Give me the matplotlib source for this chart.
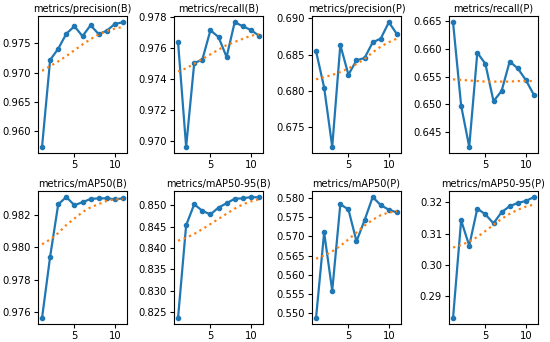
import matplotlib
matplotlib.use("Agg")
import matplotlib.pyplot as plt
from matplotlib.ticker import MultipleLocator

# epochs
epochs = [1, 2, 3, 4, 5, 6, 7, 8, 9, 10, 11]

titles = ["metrics/precision(B)", "metrics/recall(B)", "metrics/precision(P)", "metrics/recall(P)",
          "metrics/mAP50(B)", "metrics/mAP50-95(B)", "metrics/mAP50(P)", "metrics/mAP50-95(P)"]

# raw values
precision_b = [0.9573, 0.97215, 0.97407, 0.97663, 0.97791, 0.97622, 0.97808, 0.97657, 0.97715, 0.97831, 0.97860]
recall_b = [0.97639, 0.96965, 0.97504, 0.97526, 0.97715, 0.97672, 0.97543, 0.97767, 0.97741, 0.97717, 0.97680]
precision_p = [0.68547, 0.68047, 0.67234, 0.68631, 0.68224, 0.68421, 0.68453, 0.68668, 0.68720, 0.68944, 0.68780]
recall_p = [0.6648, 0.64975, 0.64235, 0.65932, 0.65728, 0.65056, 0.65241, 0.65772, 0.65648, 0.65438, 0.65167]
map50_b = [0.97561, 0.97943, 0.98269, 0.98314, 0.98263, 0.98282, 0.98302, 0.98306, 0.98306, 0.98300, 0.98306]
map5095_b = [0.82362, 0.84531, 0.85023, 0.84870, 0.84785, 0.84946, 0.85046, 0.85153, 0.85161, 0.85192, 0.85184]
map50_p = [0.54881, 0.5710, 0.5559, 0.5783, 0.5770, 0.5687, 0.5742, 0.5802, 0.5781, 0.5769, 0.5762]
map5095_p = [0.28295, 0.31421, 0.30611, 0.31800, 0.31611, 0.31326, 0.31684, 0.31874, 0.31979, 0.32042, 0.32168]

# smoothed values (orange dotted)
precision_b_s = [0.9703, 0.9711, 0.9719, 0.9728, 0.9738, 0.9748, 0.9757, 0.9765, 0.9771, 0.9775, 0.9778]
recall_b_s = [0.9745, 0.9747, 0.9750, 0.9753, 0.9756, 0.9759, 0.9762, 0.9764, 0.9766, 0.9768, 0.9769]
precision_p_s = [0.6816, 0.6819, 0.6822, 0.6826, 0.6831, 0.6837, 0.6844, 0.6853, 0.6861, 0.6867, 0.6872]
recall_p_s = [0.6545, 0.6544, 0.6543, 0.6542, 0.6541, 0.6541, 0.6541, 0.6541, 0.6542, 0.6542, 0.6542]
map50_b_s = [0.9802, 0.9805, 0.9809, 0.9814, 0.9818, 0.9822, 0.9825, 0.9827, 0.9829, 0.9830, 0.9830]
map5095_b_s = [0.8417, 0.8424, 0.8433, 0.8444, 0.8456, 0.8468, 0.8480, 0.8492, 0.8502, 0.8509, 0.8514]
map50_p_s = [0.5642, 0.5650, 0.5661, 0.5675, 0.5692, 0.5710, 0.5728, 0.5743, 0.5755, 0.5762, 0.5765]
map5095_p_s = [0.3055, 0.3063, 0.3074, 0.3089, 0.3108, 0.3128, 0.3147, 0.3163, 0.3176, 0.3186, 0.3193]

raw = [precision_b, recall_b, precision_p, recall_p, map50_b, map5095_b, map50_p, map5095_p]
smooth = [precision_b_s, recall_b_s, precision_p_s, recall_p_s, map50_b_s, map5095_b_s, map50_p_s, map5095_p_s]
ystep = [0.005, 0.002, 0.005, 0.005, 0.002, 0.005, 0.005, 0.01]

plt.rcParams['font.size'] = 7.5

fig = plt.figure(figsize=(5.5, 3.42), dpi=100)
W, H = 550.0, 342.0
lefts = [38, 174, 312, 449]
rows = [(16, 153), (191, 324)]

for i in range(8):
    r, c = divmod(i, 4)
    top, bot = rows[r]
    ax = fig.add_axes([lefts[c] / W, 1 - bot / H, 89 / W, (bot - top) / H])
    ax.plot(epochs, raw[i], marker='.', color='#1f77b4', linewidth=1.6, markersize=6)
    ax.plot(epochs, smooth[i], ':', color='#ff7f0e', linewidth=1.6)
    ax.set_title(titles[i], fontsize=7, pad=3)
    ax.yaxis.set_major_locator(MultipleLocator(ystep[i]))
    ax.tick_params(labelsize=7.2, length=3, pad=2)

fig.savefig("out.png", dpi=100)
